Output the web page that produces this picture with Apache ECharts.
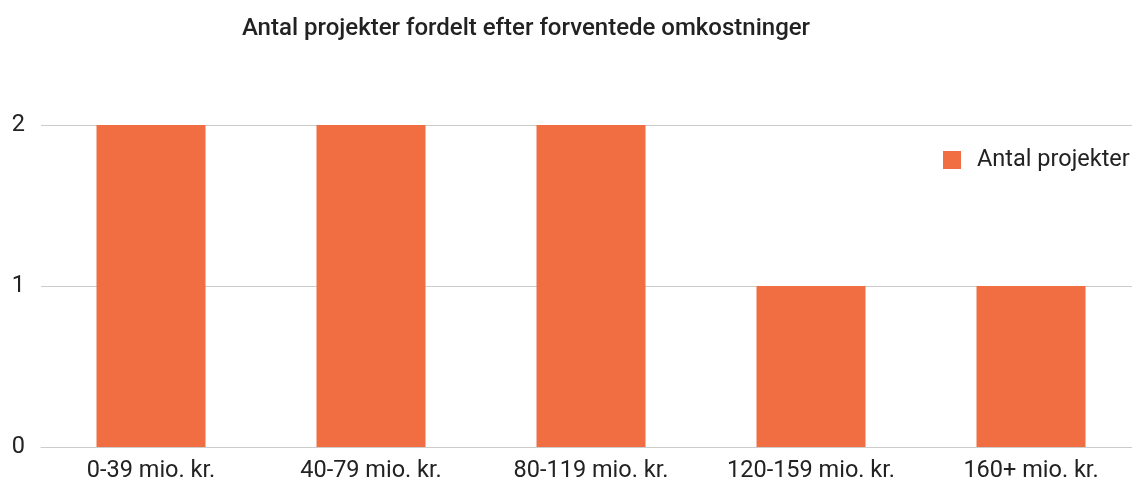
<!DOCTYPE html>
<html>
<head>
<meta charset="utf-8">
<script src="https://cdn.jsdelivr.net/npm/echarts@6/dist/echarts.min.js"></script>
<style>
html, body { margin: 0; padding: 0; background: #fff; }
#main { width: 1132px; height: 486px; }
</style>
</head>
<body>
<div id="main"></div>
<script>
var categories = ['0-39 mio. kr.', '40-79 mio. kr.', '80-119 mio. kr.', '120-159 mio. kr.', '160+ mio. kr.'];
var projectCounts = [2, 2, 2, 1, 1];
var seriesName = 'Antal projekter';
var chartTitle = 'Antal projekter fordelt efter forventede omkostninger';

var myChart = echarts.init(document.getElementById('main'));
var option = {
	animation: false,
	title: {
		text: chartTitle,
		left: 521,
		textAlign: 'center',
		top: 12,
		textStyle: {
			fontFamily: 'Roboto',
			fontSize: 24,
			fontWeight: 500,
			color: '#222'
		}
	},
	legend: {
		data: [seriesName],
		left: 943,
		top: 148,
		padding: 0,
		itemWidth: 18,
		itemHeight: 18,
		itemGap: 0,
		icon: 'rect',
		textStyle: {
			fontFamily: 'Roboto',
			fontSize: 23.5,
			color: '#222',
			padding: [0, 0, 0, 11]
		}
	},
	grid: {
		left: 41,
		top: 125,
		width: 1100,
		height: 322,
		outerBoundsMode: 'none',
		containLabel: false
	},
	xAxis: {
		type: 'category',
		data: categories,
		axisTick: { show: false },
		axisLine: { lineStyle: { color: '#ccc', width: 1 } },
		axisLabel: {
			interval: 0,
			margin: 12,
			fontFamily: 'Roboto',
			fontSize: 23.5,
			color: '#222'
		}
	},
	yAxis: {
		type: 'value',
		min: 0,
		max: 2,
		interval: 1,
		axisLine: { show: false },
		axisTick: { show: false },
		splitLine: { lineStyle: { color: '#ccc', width: 1 } },
		axisLabel: {
			margin: 16,
			fontFamily: 'Roboto',
			fontSize: 23.5,
			color: '#222'
		}
	},
	series: [{
		name: seriesName,
		type: 'bar',
		data: projectCounts,
		barWidth: 109,
		itemStyle: { color: '#F06E42' }
	}]
};
myChart.setOption(option);
</script>
</body>
</html>
